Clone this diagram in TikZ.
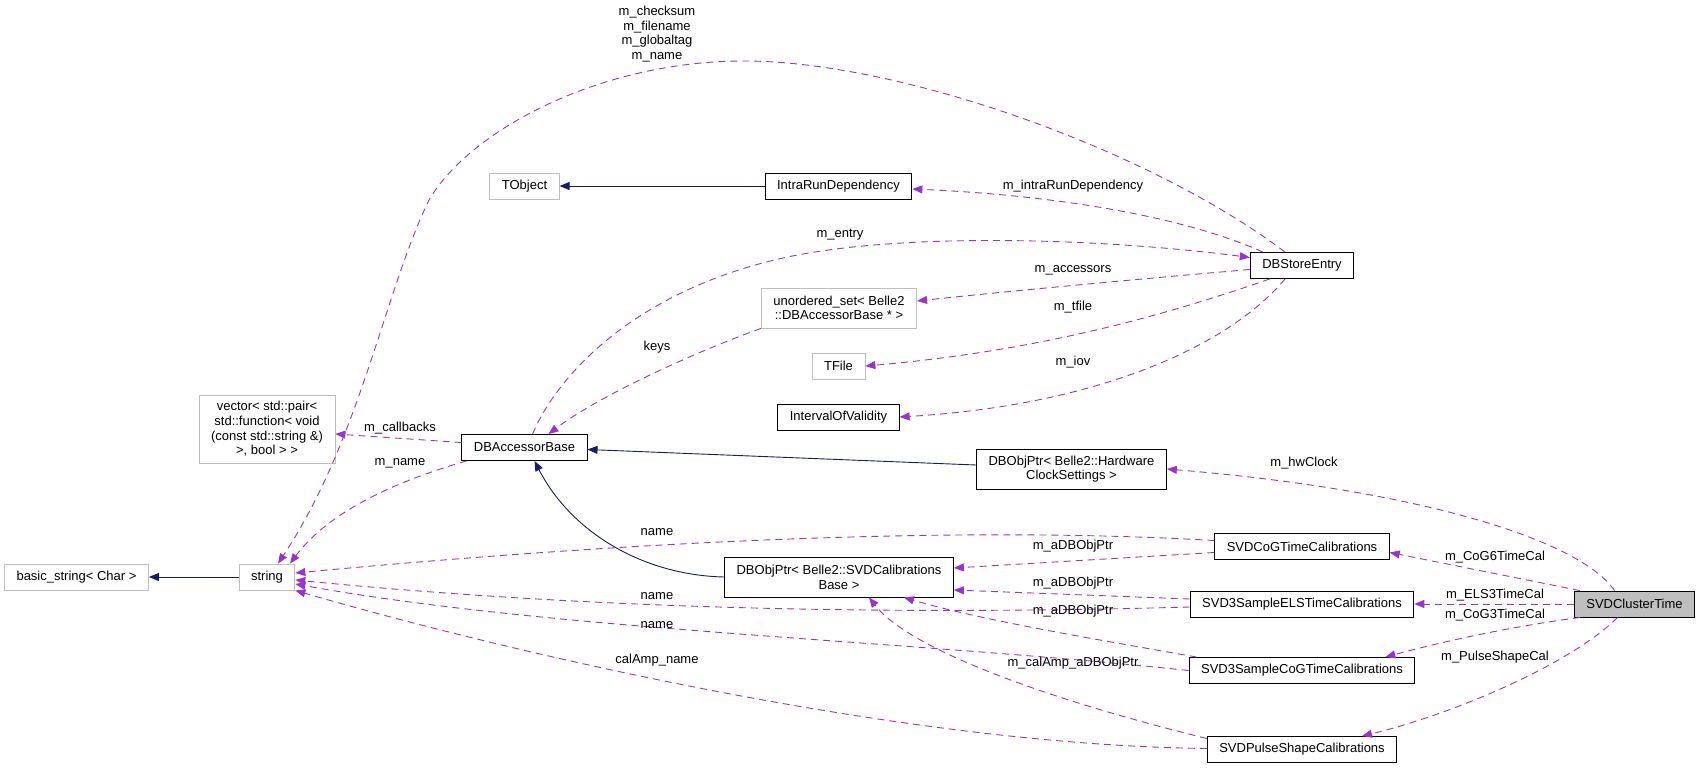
\documentclass[tikz,border=0pt]{standalone}
\usepackage{fontspec}
\setmainfont{Liberation Sans}
\usetikzlibrary{arrows.meta}
\definecolor{edgeuse}{HTML}{9A32CD}
\definecolor{edgebase}{HTML}{191970}
\definecolor{boxgrey}{HTML}{BFBFBF}
\tikzset{cls/.style={draw=black,line width=0.9pt,fill=white,
  font=\fontsize{13}{14.7}\selectfont,align=center,
  inner xsep=12pt,inner ysep=2pt,minimum height=26pt}}
\tikzset{ext/.style={cls,draw=boxgrey}}
\tikzset{lbl/.style={font=\fontsize{13}{14.7}\selectfont,align=center,inner sep=0pt}}
\tikzset{member/.style={edgeuse,line width=0.9pt,dash pattern=on 7pt off 5pt,
  -{Triangle[length=10pt,width=8pt]}}}
\tikzset{inherit/.style={edgebase,line width=0.9pt,
  -{Triangle[length=10pt,width=8pt]}}}

\begin{document}
\begin{tikzpicture}[x=1pt,y=-1pt]
      \useasboundingbox (0,0) rectangle (1700,768);
      \node [ext] (bstr) at (76.5,577) {basic\_string< Char >};
      \node [ext] (str) at (267,577) {string};
      \node [ext,minimum height=68pt] (vec) at (267,429) {vector< std::pair<\\ std::function< void\\(const std::string \&)\\>, bool > >};
      \node [cls] (dbacc) at (524.5,447.5) {DBAccessorBase};
      \node [ext] (tobj) at (524.5,186) {TObject};
      \node [cls] (intra) at (838.5,186) {IntraRunDependency};
      \node [ext,minimum height=40pt] (uset) at (839,308) {unordered\_set< Belle2\\::DBAccessorBase * >};
      \node [ext] (tfile) at (838.5,366) {TFile};
      \node [cls] (iov) at (838.5,417) {IntervalOfValidity};
      \node [cls,minimum height=40pt] (dbsvd) at (839,577) {DBObjPtr< Belle2::SVDCalibrations\\Base >};
      \node [cls] (dbse) at (1302,265.5) {DBStoreEntry};
      \node [cls,minimum height=40pt] (dbhw) at (1071.5,469) {DBObjPtr< Belle2::Hardware\\ClockSettings >};
      \node [cls] (cog6) at (1302,546.5) {SVDCoGTimeCalibrations};
      \node [cls] (els) at (1302,604) {SVD3SampleELSTimeCalibrations};
      \node [cls] (cog3) at (1302,670.5) {SVD3SampleCoGTimeCalibrations};
      \node [cls] (pulse) at (1302,749.5) {SVDPulseShapeCalibrations};
      \node [cls,fill=boxgrey] (svdct) at (1634.5,604) {SVDClusterTime};
      \draw [inherit] (str.west) -- (bstr.east);
      \draw [inherit] (intra.west) -- (tobj.east);
      \draw [inherit] ([yshift=4pt]dbhw.west) -- ([yshift=-2pt]dbacc.east);
      \draw [inherit] (dbsvd.west) .. controls (640,575) and (570,530) .. ([xshift=10pt]dbacc.south);
      \draw [member] ([xshift=-17pt]dbse.north) .. controls (1150,150) and (900,61) .. (744,61) .. controls (600,61) and (470,130) .. (429,200) .. controls (385,290) and (360,440) .. ([xshift=11pt]str.north);
      \draw [member] ([yshift=5pt]dbacc.west) -- ([yshift=-5pt]vec.east);
      \draw [member] ([xshift=5pt]dbacc.south west) .. controls (400,480) and (330,510) .. ([xshift=23pt]str.north);
      \draw [member] ([xshift=8pt]dbacc.north) .. controls (560,370) and (640,290) .. (783,258) .. controls (900,232) and (1100,238) .. ([yshift=8pt]dbse.west);
      \draw [member] (uset.south west) .. controls (700,350) and (600,395) .. ([xshift=24pt]dbacc.north);
      \draw [member] ([xshift=13pt]dbse.north west) .. controls (1180,215) and (1050,195) .. ([yshift=-3pt]intra.east);
      \draw [member] ([yshift=-4pt]dbse.west) .. controls (1150,278) and (1000,292) .. ([yshift=7pt]uset.east);
      \draw [member] ([xshift=20pt]dbse.south west) .. controls (1180,310) and (1050,350) .. (tfile.east);
      \draw [member] ([xshift=-17pt]dbse.south) .. controls (1230,345) and (1100,405) .. (iov.east);
      \draw [member] ([xshift=-20pt]svdct.north) .. controls (1580,540) and (1420,490) .. (dbhw.east);
      \draw [member] ([xshift=6pt]svdct.north west) -- ([yshift=-6pt]cog6.east);
      \draw [member] (svdct.west) -- (els.east);
      \draw [member] ([xshift=6pt]svdct.south west) .. controls (1500,628) and (1430,645) .. ([xshift=-30pt]cog3.north east);
      \draw [member] ([xshift=-17pt]svdct.south) .. controls (1570,665) and (1450,715) .. ([xshift=60pt]pulse.north);
      \draw [member] ([yshift=6pt]cog6.west) .. controls (1000,528) and (700,535) .. ([yshift=4pt]str.east);
      \draw [member] ([yshift=-6pt]cog6.west) -- ([yshift=9pt]dbsvd.east);
      \draw [member] ([yshift=5pt]els.west) -- ([yshift=-13pt]dbsvd.east);
      \draw [member] ([yshift=-3pt]els.west) .. controls (900,615) and (600,610) .. ([yshift=-3pt]str.east);
      \draw [member] ([xshift=8pt]cog3.north west) .. controls (1100,640) and (980,620) .. ([xshift=-50pt]dbsvd.south east);
      \draw [member] (cog3.west) .. controls (900,640) and (550,630) .. ([yshift=-7pt]str.east);
      \draw [member] ([yshift=11pt]pulse.west) .. controls (1050,700) and (910,650) .. ([xshift=30pt]dbsvd.south);
      \draw [member] ([yshift=1pt]pulse.west) .. controls (900,745) and (500,650) .. (str.south east);
      \node [lbl] (lchk) at (657,34) {m\_checksum\\m\_filename\\m\_globaltag\\m\_name};
      \node [lbl] (lcall) at (400,428) {m\_callbacks};
      \node [lbl] (lmname) at (400,463) {m\_name};
      \node [lbl] (lentry) at (840,235) {m\_entry};
      \node [lbl] (lkeys) at (657,347) {keys};
      \node [lbl] (lintra) at (1073,186) {m\_intraRunDependency};
      \node [lbl] (lacc) at (1073,270) {m\_accessors};
      \node [lbl] (ltfile) at (1073,307) {m\_tfile};
      \node [lbl] (liov) at (1073,362) {m\_iov};
      \node [lbl] (lhw) at (1304,463) {m\_hwClock};
      \node [lbl] (lcog6) at (1495,557) {m\_CoG6TimeCal};
      \node [lbl] (lels) at (1495,595) {m\_ELS3TimeCal};
      \node [lbl] (lcog3) at (1495,615) {m\_CoG3TimeCal};
      \node [lbl] (lpulse) at (1495,657) {m\_PulseShapeCal};
      \node [lbl] (lname1) at (657,532) {name};
      \node [lbl] (lname2) at (657,596) {name};
      \node [lbl] (lname3) at (657,625) {name};
      \node [lbl] (lcalamp) at (657,660) {calAmp\_name};
      \node [lbl] (lptr1) at (1073,546) {m\_aDBObjPtr};
      \node [lbl] (lptr2) at (1073,583) {m\_aDBObjPtr};
      \node [lbl] (lptr3) at (1073,611) {m\_aDBObjPtr};
      \node [lbl] (lcalptr) at (1073,663) {m\_calAmp\_aDBObjPtr};
\end{tikzpicture}
\end{document}
